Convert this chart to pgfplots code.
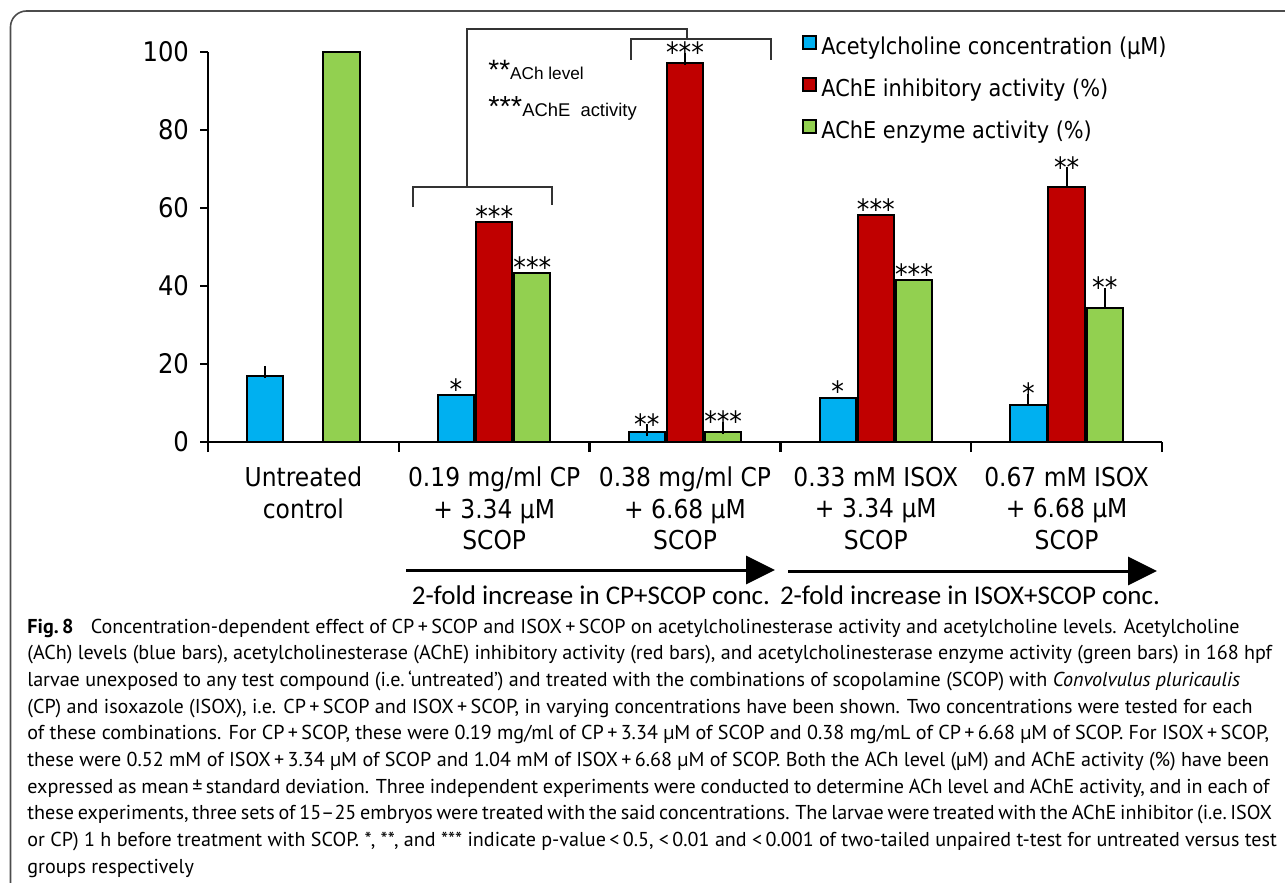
\documentclass[border=0pt]{standalone}
\usepackage{pgfplots}
\pgfplotsset{compat=1.18}
\usepackage{pgfplotstable}
\usepackage{fontspec}
\setmainfont{DejaVu Sans}
\newfontfamily\tahoma[FakeStretch=0.9]{DejaVu Sans}
\newfontfamily\arial{Liberation Sans}
\newfontfamily\capfont{PT Sans}
\newfontfamily\calib{Carlito}
\usetikzlibrary{arrows.meta}
\definecolor{cblue}{HTML}{00B0F0}
\definecolor{cred}{HTML}{C00000}
\definecolor{cgreen}{HTML}{92D050}

% x = category (0..4), y = mean
\pgfplotstableread{
x y
0 16.9
1 12.0
2 2.6
3 11.3
4 9.5
}\bluedata
\pgfplotstableread{
x y
1 56.4
2 97.2
3 58.2
4 65.5
}\reddata
\pgfplotstableread{
x y
0 100
1 43.3
2 2.6
3 41.5
4 34.4
}\greendata
% error bars (x at the shifted bar centres), e = upper error (SD)
\pgfplotstableread{
x y e
-0.2 16.9 1.1
1.8 2.6 0.4
2.0 97.2 1.1
2.2 2.6 1.0
3.8 9.5 1.3
4.0 65.5 3.4
4.2 34.4 3.6
}\errdata

\begin{document}
\begin{tikzpicture}
\begin{scope}[x=0.5pt,y=-0.5pt]
\draw[line width=0.8pt, black!70, rounded corners=8pt] (10.5,883) -- (10.5,11) -- (1285,11);
\end{scope}

\begin{axis}[
  at={(104pt,-221pt)}, anchor=south west,
  scale only axis, width=477pt, height=195pt,
  xmin=-0.5, xmax=4.5, ymin=0, ymax=100,
  clip=false,
  axis x line*=bottom, axis y line*=left,
  axis line style={-, line width=1.4pt, black},
  every tick/.style={black, line width=1.2pt},
  tick align=outside,
  ytick={0,20,...,100},
  major tick length=4pt,
  minor tick length=5pt,
  xtick={0,1,2,3,4},
  major x tick style={draw=none},
  minor xtick={-0.5,0.5,1.5,2.5,3.5,4.5},
  xticklabels={{Untreated\\control},{0.19 mg/ml CP\\+ 3.34 µM\\SCOP},{0.38 mg/ml CP\\+ 6.68 µM\\SCOP},{0.33 mM ISOX\\+ 3.34 µM\\SCOP},{0.67 mM ISOX\\+ 6.68 µM\\SCOP}},
  x tick label style={align=center, font=\tahoma\fontsize{13}{15.75}\selectfont, yshift=-5pt},
  y tick label style={font=\tahoma\fontsize{13.5}{15}\selectfont, xshift=-2pt},
  /pgf/number format/assume math mode=true,
  ybar, bar width=0.19,
  legend style={at={(axis description cs:0.6226,1.05)}, anchor=north west, draw=none, fill=none,
    font=\tahoma\fontsize{11.6}{13}\selectfont, row sep=6.7pt, inner sep=0pt},
  legend cell align=left,
]
\addplot[fill=cblue, draw=black, line width=1pt, bar shift=-0.2,
  /pgfplots/legend image code/.code={\draw[line width=1pt, draw=black, fill=cblue] (0pt,-1pt) rectangle (6.5pt,5.5pt);}]
  table[x=x, y=y] {\bluedata};
\addlegendentry{Acetylcholine concentration (µM)}
\addplot[fill=cred, draw=black, line width=1pt, bar shift=0,
  /pgfplots/legend image code/.code={\draw[line width=1pt, draw=black, fill=cred] (0pt,-1pt) rectangle (6.5pt,5.5pt);}]
  table[x=x, y=y] {\reddata};
\addlegendentry{AChE inhibitory activity (\%)}
\addplot[fill=cgreen, draw=black, line width=1pt, bar shift=0.2,
  /pgfplots/legend image code/.code={\draw[line width=1pt, draw=black, fill=cgreen] (0pt,-1pt) rectangle (6.5pt,5.5pt);}]
  table[x=x, y=y] {\greendata};
\addlegendentry{AChE enzyme activity (\%)}
\addplot[sharp plot, bar shift=0pt, draw=none, mark=none, forget plot,
  error bars/.cd, y dir=plus, y explicit, error bar style={line width=1pt, black, solid},
  error mark options={black, line width=1pt, mark size=3pt}]
  table[x=x, y=y, y error=e] {\errdata};

\tikzset{star/.style={anchor=base, inner sep=0pt, font=\tahoma\fontsize{14}{14}\selectfont, yshift=-2pt}}
\node[star] at (axis cs:0.8,12.0) {*};
\node[star] at (axis cs:1,56.4) {***};
\node[star] at (axis cs:1.2,43.3) {***};
\node[star] at (axis cs:1.8,3.0) {**};
\node[star] at (axis cs:2,98.3) {***};
\node[star] at (axis cs:2.2,3.6) {***};
\node[star] at (axis cs:2.8,11.3) {*};
\node[star] at (axis cs:3,58.2) {***};
\node[star] at (axis cs:3.2,41.5) {***};
\node[star] at (axis cs:3.8,10.8) {*};
\node[star] at (axis cs:4,68.9) {**};
\node[star] at (axis cs:4.2,38.0) {**};
\end{axis}

\begin{scope}[x=0.5pt,y=-0.5pt]
% significance brackets
\draw[line width=1pt, black!80] (413,207) -- (413,187) -- (552,187) -- (552,205);
\draw[line width=1pt, black!80] (467,187) -- (467,29) -- (687,29) -- (687,39.5);
\draw[line width=1pt, black!80] (631,60) -- (631,39.5) -- (771,39.5) -- (771,60);
\node[anchor=base west, inner sep=0pt] at (488,80) {\arial\fontsize{14}{14}\selectfont **\fontsize{8.6}{9}\selectfont ACh level};
\node[anchor=base west, inner sep=0pt] at (488,117) {\arial\fontsize{14.5}{14}\selectfont ***\fontsize{9.2}{9}\selectfont AChE\ \ activity};

% arrows
\draw[line width=1.5pt, -{Triangle[length=14.5pt,width=14pt]}] (406,570) -- (775,570);
\draw[line width=1.5pt, -{Triangle[length=14.5pt,width=14pt]}] (788,571) -- (1157,571);
\node[anchor=base, inner sep=0pt] at (591,604) {\calib\fontsize{13.5}{14}\selectfont 2-fold increase in CP+SCOP conc.};
\node[anchor=base, inner sep=0pt] at (970,604) {\calib\fontsize{13.5}{14}\selectfont 2-fold increase in ISOX+SCOP conc.};

% caption
\tikzset{capline/.style={anchor=base west, inner sep=0pt, font=\capfont\fontsize{10.05}{12}\selectfont}}
\node[capline] at (27,633) {\textbf{Fig.\,8}\hspace{0.6em} Concentration-dependent effect of CP\,+\,SCOP and ISOX\,+\,SCOP on acetylcholinesterase activity and acetylcholine levels. Acetylcholine};
\node[capline] at (27,659.7) {(ACh) levels (blue bars), acetylcholinesterase (AChE) inhibitory activity (red bars), and acetylcholinesterase enzyme activity (green bars) in 168 hpf};
\node[capline] at (27,686.3) {larvae unexposed to any test compound (i.e.\,‘untreated’) and treated with the combinations of scopolamine (SCOP) with \textit{Convolvulus pluricaulis}};
\node[capline] at (27,713) {(CP) and isoxazole (ISOX), i.e. CP\,+\,SCOP and ISOX\,+\,SCOP, in varying concentrations have been shown. Two concentrations were tested for each};
\node[capline] at (27,739.7) {of these combinations. For CP\,+\,SCOP, these were 0.19 mg/ml of CP\,+\,3.34 µM of SCOP and 0.38 mg/mL of CP\,+\,6.68 µM of SCOP. For ISOX\,+\,SCOP,};
\node[capline] at (27,766.3) {these were 0.52 mM of ISOX\,+\,3.34 µM of SCOP and 1.04 mM of ISOX\,+\,6.68 µM of SCOP. Both the ACh level (µM) and AChE activity (\%) have been};
\node[capline] at (27,793) {\spaceskip=0.9\fontdimen2\font expressed as mean\,±\,standard deviation. Three independent experiments were conducted to determine ACh level and AChE activity, and in each of};
\node[capline] at (27,819.7) {\spaceskip=0.7\fontdimen2\font these experiments, three sets of 15–25 embryos were treated with the said concentrations. The larvae were treated with the AChE inhibitor (i.e.\,ISOX};
\node[capline] at (27,846.3) {or CP) 1 h before treatment with SCOP. *, **, and *** indicate p-value\,\textless\,0.5, \textless\,0.01 and \textless\,0.001 of two-tailed unpaired t-test for untreated versus test};
\node[capline] at (27,873) {groups respectively};
\end{scope}
\pgfresetboundingbox
\path[use as bounding box] (0pt,0pt) rectangle (642.5pt,-441.5pt);
\end{tikzpicture}
\end{document}
